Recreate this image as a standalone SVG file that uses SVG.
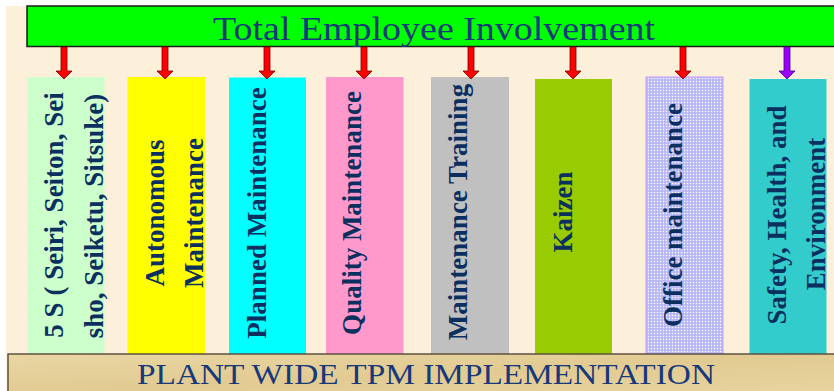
<svg xmlns="http://www.w3.org/2000/svg" width="834" height="391" viewBox="0 0 834 391">
  <defs>
    <style>
      .lbl { font-family: "Liberation Serif", "Times New Roman", serif; font-weight: bold; font-size: 27px; fill: #0b2f5e; text-anchor: middle; }
      .ttl { font-family: "Liberation Serif", "Times New Roman", serif; fill: #17397a; text-anchor: middle; }
      .arr { fill: #ff0000; stroke: #7a0000; stroke-width: 0.8; }
      .arrp { fill: #9900ff; stroke: #4b0080; stroke-width: 0.8; }
    </style>
    <pattern id="dots" width="3" height="3" patternUnits="userSpaceOnUse">
      <rect width="3" height="3" fill="#c2c2fa"/>
      <rect width="1" height="1" fill="#ffffff"/>
      <rect x="1.5" y="1.5" width="1" height="1" fill="#9d9df0"/>
    </pattern>
    <linearGradient id="tan" x1="0" y1="0" x2="1" y2="1">
      <stop offset="0" stop-color="#e9d6a4"/>
      <stop offset="0.5" stop-color="#e2cb92"/>
      <stop offset="1" stop-color="#e8d4a0"/>
    </linearGradient>
  </defs>

  <rect width="834" height="391" fill="#ffffff"/>
  <rect x="6" y="6" width="828" height="385" fill="#fcf0da"/>

  <g id="top-bar">
    <rect x="27" y="6" width="812" height="40.5" fill="#00ff00" stroke="#1a1a1a" stroke-width="1.5"/>
    <text class="ttl" x="434" y="39.5" font-size="33" textLength="442" lengthAdjust="spacingAndGlyphs">Total Employee Involvement</text>
  </g>

  <g id="col-5s">
    <rect x="27.5" y="77" width="77" height="277" fill="#ccffcc"/>
    <text class="lbl" transform="translate(63,215) rotate(-90)">5 S ( Seiri, Seiton, Sei</text>
    <text class="lbl" transform="translate(103,216) rotate(-90)">sho, Seiketu, Sitsuke)</text>
  </g>
  <g id="col-autonomous">
    <rect x="127.5" y="77" width="77.5" height="277" fill="#ffff00"/>
    <text class="lbl" transform="translate(164,213) rotate(-90)">Autonomous</text>
    <text class="lbl" transform="translate(203,213) rotate(-90)">Maintenance</text>
  </g>
  <g id="col-planned">
    <rect x="229" y="77.5" width="77" height="276.5" fill="#00ffff"/>
    <text class="lbl" transform="translate(266,213) rotate(-90)">Planned Maintenance</text>
  </g>
  <g id="col-quality">
    <rect x="326" y="77" width="77.5" height="277" fill="#ff99cc"/>
    <text class="lbl" transform="translate(361,213) rotate(-90)">Quality Maintenance</text>
  </g>
  <g id="col-training">
    <rect x="431" y="77" width="78" height="277" fill="#c0c0c0"/>
    <text class="lbl" transform="translate(467,212) rotate(-90)">Maintenance Training</text>
  </g>
  <g id="col-kaizen">
    <rect x="535" y="79" width="77" height="276" fill="#99cc00"/>
    <text class="lbl" transform="translate(572,212) rotate(-90)">Kaizen</text>
  </g>
  <g id="col-office">
    <rect x="646" y="77" width="77" height="277" fill="url(#dots)" stroke="#cc99ff" stroke-width="1"/>
    <text class="lbl" transform="translate(682,215) rotate(-90)">Office maintenance</text>
  </g>
  <g id="col-safety">
    <rect x="749.5" y="79" width="77" height="275" fill="#33cccc"/>
    <text class="lbl" transform="translate(786,215) rotate(-90)">Safety, Health, and</text>
    <text class="lbl" transform="translate(825,214) rotate(-90)">Environment</text>
  </g>

  <g id="connectors">
    <path class="arr" d="M61,47 h6 v24 h5 l-8,8 l-8,-8 h5 z"/>
    <path class="arr" d="M162,47 h6 v24 h5 l-8,8 l-8,-8 h5 z"/>
    <path class="arr" d="M264,47 h6 v24 h5 l-8,8 l-8,-8 h5 z"/>
    <path class="arr" d="M361,47 h6 v24 h5 l-8,8 l-8,-8 h5 z"/>
    <path class="arr" d="M468,47 h6 v24 h5 l-8,8 l-8,-8 h5 z"/>
    <path class="arr" d="M570,47 h6 v24 h5 l-8,8 l-8,-8 h5 z"/>
    <path class="arr" d="M680,47 h6 v24 h5 l-8,8 l-8,-8 h5 z"/>
    <path class="arrp" d="M784,47 h6 v24 h5 l-8,8 l-8,-8 h5 z"/>
  </g>

  <g id="bottom-bar">
    <rect x="8" y="354" width="830" height="40" fill="url(#tan)" stroke="#5e5040" stroke-width="1.5"/>
    <text class="ttl" x="426" y="384" font-size="29" textLength="578" lengthAdjust="spacingAndGlyphs">PLANT WIDE TPM IMPLEMENTATION</text>
  </g>
</svg>
